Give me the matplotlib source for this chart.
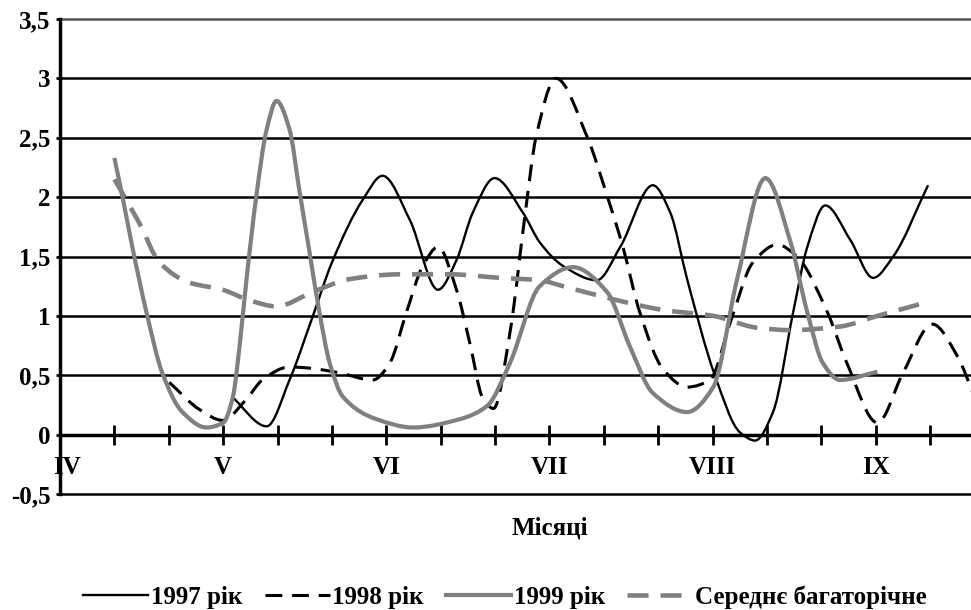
import numpy as np
import matplotlib
matplotlib.use('Agg')
import matplotlib.pyplot as plt
from matplotlib.path import Path
from matplotlib.patches import PathPatch
from matplotlib.lines import Line2D

plt.rcParams['font.family'] = ['Liberation Serif', 'DejaVu Serif']
plt.rcParams['font.weight'] = 'bold'

# положення по осі x - декади від початку квітня (IV = 0)
x_1997 = [3.16, 3.80, 4.22, 4.65, 5.00, 5.57, 5.93, 6.43, 6.95, 7.29, 7.59, 7.99, 8.51,
          8.82, 9.25, 9.87, 10.30, 10.90, 11.22, 11.53, 12.04, 12.50, 12.78, 13.11,
          13.48, 13.74, 14.07, 14.53, 14.95, 15.32, 15.96]
y_1997 = [0.32, 0.07, 0.46, 1.00, 1.45, 1.98, 2.18, 1.81, 1.22, 1.47, 1.87, 2.16, 1.87,
          1.62, 1.42, 1.30, 1.58, 2.10, 1.87, 1.31, 0.50, 0.02, -0.05, 0.19,
          1.03, 1.58, 1.93, 1.64, 1.32, 1.50, 2.10]

x_1998 = [2.01, 2.57, 2.99, 3.43, 3.72, 4.22, 4.59, 5.14, 5.75, 6.06, 6.37, 6.67, 6.95,
          7.29, 7.53, 7.78, 7.97, 8.28, 8.55, 8.75, 9.12, 9.69, 10.06, 10.35, 10.66,
          11.09, 11.53, 11.95, 12.32, 12.74, 13.19, 13.55, 14.11, 14.47, 15.03, 15.50,
          16.04, 16.50, 16.83]
y_1998 = [0.44, 0.21, 0.12, 0.30, 0.46, 0.57, 0.56, 0.52, 0.46, 0.60, 1.03, 1.42, 1.58,
          1.22, 0.78, 0.30, 0.22, 0.88, 1.85, 2.50, 3.00, 2.51, 2.01, 1.58, 1.03,
          0.55, 0.40, 0.46, 0.94, 1.45, 1.60, 1.50, 1.03, 0.60, 0.10, 0.52,
          0.93, 0.66, 0.30]

x_1999 = [1.00, 1.15, 1.33, 1.59, 1.88, 2.25, 2.69, 3.00, 3.18, 3.30, 3.43, 3.61, 3.80,
          3.98, 4.22, 4.40, 4.59, 4.77, 4.96, 5.20, 5.82, 6.49, 7.35, 7.85, 8.27, 8.82,
          9.43, 10.06, 10.48, 10.90, 11.53, 12.01, 12.45, 12.97, 13.42, 13.74, 14.03,
          14.34, 15.03]
y_1999 = [2.33, 2.00, 1.58, 1.03, 0.52, 0.19, 0.06, 0.10, 0.32, 0.74, 1.31, 2.01, 2.57,
          2.81, 2.57, 2.06, 1.53, 1.03, 0.60, 0.32, 0.13, 0.06, 0.13, 0.24, 0.60, 1.25,
          1.41, 1.20, 0.74, 0.35, 0.19, 0.40, 1.31, 2.16, 1.64, 1.03, 0.60,
          0.46, 0.53]

x_avg = [1.00, 1.46, 1.83, 2.38, 2.99, 3.49, 3.98, 4.64, 5.33, 6.25, 7.17, 8.09, 8.82,
         9.25, 10.17, 11.09, 12.01, 12.82, 13.42, 14.34, 15.03, 15.82]
y_avg = [2.15, 1.78, 1.45, 1.28, 1.22, 1.13, 1.08, 1.20, 1.31, 1.35, 1.35, 1.32, 1.30,
         1.25, 1.14, 1.05, 1.00, 0.90, 0.88, 0.91, 1.00, 1.10]

months = ['IV', 'V', 'VI', 'VII', 'VIII', 'IX']
month_pos = [0.12, 3, 6, 9, 12, 15]
y_ticks = [-0.5, 0, 0.5, 1, 1.5, 2, 2.5, 3, 3.5]
y_labels = ['-0,5', '0', '0,5', '1', '1,5', '2', '2,5', '3', '3,5']
names = ['1997 рік', '1998 рік', '1999 рік', 'Середнє багаторічне']


# згладжена крива (кубічні безьє, монотонні нахили як у pchip)
def smooth(x, y):
    x = np.asarray(x, float)
    y = np.asarray(y, float)
    n = len(x)
    h = np.diff(x)
    d = np.diff(y) / h
    m = np.zeros(n)
    m[0], m[-1] = d[0], d[-1]
    for i in range(1, n - 1):
        if d[i - 1] * d[i] > 0:
            w1 = 2 * h[i] + h[i - 1]
            w2 = h[i] + 2 * h[i - 1]
            m[i] = (w1 + w2) / (w1 / d[i - 1] + w2 / d[i])
    verts = [(x[0], y[0])]
    codes = [Path.MOVETO]
    for i in range(n - 1):
        verts += [(x[i] + h[i] / 3, y[i] + m[i] * h[i] / 3),
                  (x[i + 1] - h[i] / 3, y[i + 1] - m[i + 1] * h[i] / 3),
                  (x[i + 1], y[i + 1])]
        codes += [Path.CURVE4] * 3
    return Path(verts, codes)


gray = '#808080'
styles = [
    dict(color='black', lw=1.7, ls='-'),
    dict(color='black', lw=2.2, ls=(0, (5.5, 3.2))),
    dict(color=gray, lw=3.0, ls='-'),
    dict(color=gray, lw=3.3, ls=(0, (4.6, 2.6))),
]
series = [(x_1997, y_1997), (x_1998, y_1998), (x_1999, y_1999), (x_avg, y_avg)]

fig = plt.figure(figsize=(9.71, 6.10), dpi=100)
ax = fig.add_axes([60 / 971, 116 / 610, 911 / 971, 475 / 610])
ax.set_xlim(0, 16.75)
ax.set_ylim(-0.5, 3.5)

for v in y_ticks:
    if v == 0:
        continue
    c = '#555555' if v == 3.5 else 'black'
    ax.axhline(v, color=c, lw=1.8, zorder=1, clip_on=False)

for (xs, ys), st in zip(series, styles):
    patch = PathPatch(smooth(xs, ys), fill=False, edgecolor=st['color'],
                      lw=st['lw'], linestyle=st['ls'], capstyle='butt', zorder=3)
    ax.add_patch(patch)

ax.spines['top'].set_visible(False)
ax.spines['right'].set_visible(False)
ax.spines['left'].set_linewidth(2.5)
ax.spines['bottom'].set_position(('data', 0))
ax.spines['bottom'].set_linewidth(2.5)
ax.spines['bottom'].set_zorder(2)

ax.set_xticks(range(1, 17))
ax.tick_params(axis='x', direction='inout', length=14, width=2, labelbottom=False)
ax.set_yticks(y_ticks)
ax.set_yticklabels(y_labels, fontsize=18, fontweight='bold')
ax.tick_params(axis='y', length=3, width=2, pad=4)

for m, p in zip(months, month_pos):
    ax.text(p, -0.28, m, ha='center', va='center', fontsize=18, fontweight='bold')

fig.text(550 / 971, 1 - 528 / 610, 'Місяці', ha='center', va='center',
         fontsize=18, fontweight='bold')

handles = [Line2D([], [], color=st['color'], lw=st['lw'], linestyle=st['ls'])
           for st in styles]
fig.legend(handles, names, loc='center', bbox_to_anchor=(0.52, 1 - 597 / 610),
           ncol=4, frameon=False, fontsize=18, handlelength=2.6,
           handletextpad=0.1, columnspacing=0.9)

fig.savefig('out.png', dpi=100)
